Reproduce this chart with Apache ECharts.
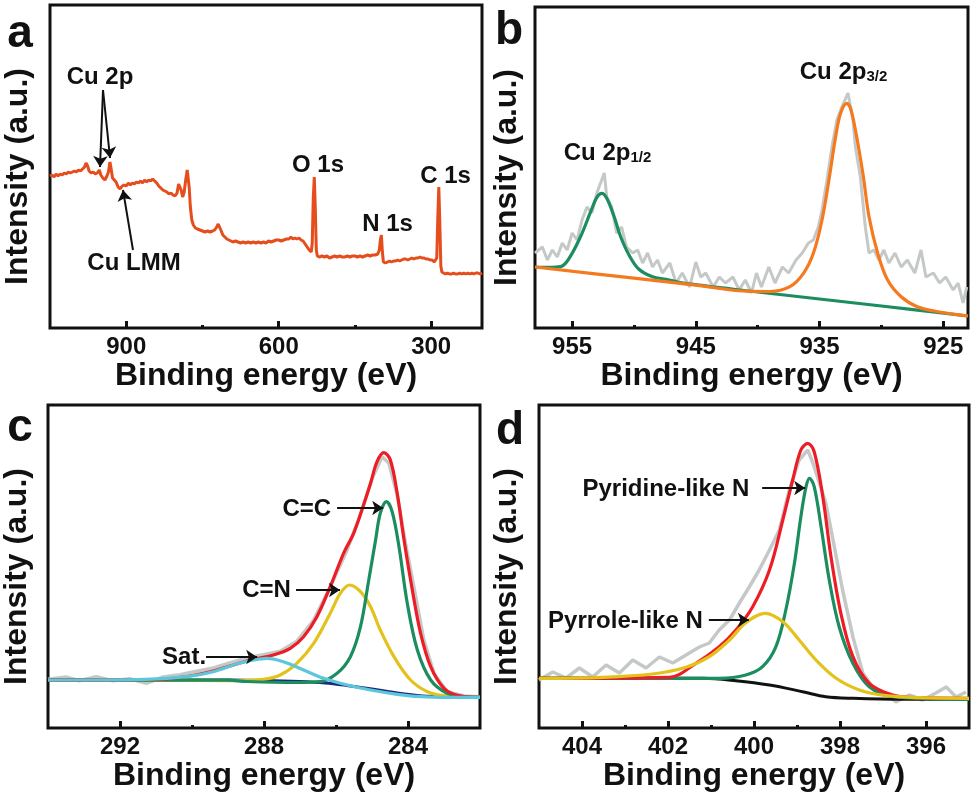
<!DOCTYPE html>
<html><head><meta charset="utf-8">
<script src="https://cdn.jsdelivr.net/npm/echarts@6/dist/echarts.min.js"></script>
<style>html,body{margin:0;padding:0;background:#fff}#c{width:979px;height:800px}</style>
</head><body><div id="c"></div>
<script>
// ---------- Panel a: survey spectrum [eV, intensity a.u.] ----------
const surveyData = [[1050,152],[1046,153],[1042,151],[1038,154],[1034,152],[1030,154],[1026,153],[1022,155],[1018,154],[1014,156],[1010,155],[1006,156],[1002,157],[998,156],[994,158],[990,157],[986,159],[982,161],[979,165],[976,162],[973,157],[969,155],[965,156],[961,154],[957,155],[953,158],[950,153],[946,150],[942,148],[938,152],[935,156],[932,166],[930,160],[927,150],[924,149],[920,146],[916,141],[912,139],[908,142],[904,143],[900,142],[896,145],[892,143],[888,145],[884,144],[880,146],[876,145],[872,147],[868,145],[864,148],[860,146],[856,148],[852,147],[848,149],[844,147],[840,145],[836,142],[832,140],[828,138],[824,137],[820,136],[816,134],[812,135],[808,133],[804,132],[800,135],[797,144],[795,146],[792,138],[789,131],[786,136],[783,148],[780,158],[778,156],[776,140],[774,122],[771,108],[768,103],[764,100],[760,99],[755,98],[750,97],[745,96],[740,97],[735,96],[730,97],[726,98],[722,101],[719,104],[716,102],[713,97],[710,93],[706,91],[702,89],[698,88],[694,87],[690,86],[685,87],[680,86],[675,85],[670,86],[665,85],[660,86],[655,85],[650,86],[645,85],[640,86],[635,85],[630,86],[625,85],[620,87],[615,86],[610,87],[605,88],[600,88],[595,87],[590,88],[585,89],[580,89],[576,91],[572,89],[568,90],[564,89],[560,90],[556,88],[552,87],[548,84],[544,81],[540,78],[536,76],[534,85],[532,130],[530,151],[528,120],[526,78],[524,72],[520,71],[515,72],[510,71],[505,72],[500,70],[495,71],[490,72],[485,71],[480,72],[475,71],[470,71],[465,72],[460,71],[455,72],[450,72],[445,71],[440,72],[435,71],[430,72],[425,73],[420,72],[415,73],[410,73],[405,74],[402,78],[400,88],[398,93],[396,76],[394,66],[390,65],[386,66],[382,67],[378,66],[374,67],[370,67],[366,68],[362,67],[358,68],[354,69],[350,69],[346,68],[342,69],[338,70],[334,69],[330,70],[326,70],[322,71],[318,70],[314,70],[310,69],[306,69],[302,68],[298,68],[294,66],[291,64],[289,70],[287,110],[285,141],[283,105],[281,62],[279,56],[276,55],[272,54],[268,55],[264,54],[260,54],[256,55],[252,54],[248,54],[244,55],[240,54],[236,55],[232,54],[228,55],[224,54],[220,55],[216,54],[212,55],[208,55],[204,54],[200,55]];

// ---------- Panel b: Cu 2p ----------
const cuRaw = [[958,75],[957.4,81],[957,68],[956.6,78],[956.2,71],[955.8,85],[955.4,78],[955,95],[954.6,88],[954.2,108],[953.8,121],[953.4,115],[953,135],[952.7,145],[952.4,155],[952.2,131],[951.8,121],[951.4,95],[951,101],[950.6,81],[950.1,75],[949.7,78],[949.3,65],[948.9,75],[948.5,61],[948.1,68],[947.7,55],[947.1,65],[946.6,45],[946.1,55],[945.5,41],[945,66],[944.6,51],[944.2,55],[943.6,41],[943.1,51],[942.6,45],[942,51],[941.5,38],[941,48],[940.5,35],[940.1,55],[939.7,41],[939.1,61],[938.6,45],[938,61],[937.5,55],[936.9,68],[936.4,75],[935.9,85],[935.5,88],[935.1,101],[934.8,118],[934.4,148],[934,181],[933.6,208],[933.2,221],[932.7,235],[932.3,208],[932.1,181],[931.7,151],[931.3,101],[931,75],[930.6,78],[930.2,68],[929.8,78],[929.4,65],[928.9,75],[928.4,61],[927.9,68],[927.3,55],[926.8,78],[926.4,51],[925.8,55],[925.3,45],[924.8,51],[924.2,38],[923.8,45],[923.4,25],[923.1,41]];
const cu2p12Fit = [[958,61],[956.6,60.7],[955.8,62],[955.0,74.7],[954.2,94.7],[953.5,116.3],[953.0,130.7],[952.6,134.7],[952.2,129.7],[951.6,111.3],[951.1,92],[950.4,73],[949.6,58.7],[948.5,51.3],[947.4,48.7],[946,44.8],[940,36],[935,29],[930,22],[923,12]];
const cu2p32Fit = [[958,61],[950,49.8],[945,42.8],[940.6,36.6],[939.0,36.5],[937.4,41.3],[936.3,54.7],[935.5,74.7],[934.8,108],[934.2,151.3],[933.7,191.3],[933.3,214.7],[932.8,224.7],[932.5,219.7],[932.1,198],[931.5,154.7],[931.0,111.3],[930.3,74.7],[929.5,48],[928.4,31.3],[927.1,21.3],[925.4,16.3],[923,12]];

// ---------- Panel c: C 1s ----------
const c1sRaw = [[294,48.7],[293.5,51],[293.13,47.3],[292.66,51.3],[292.2,47.3],[291.73,49.3],[291.27,44.7],[290.8,51],[290.34,53.3],[289.87,56.7],[289.41,60],[288.95,65],[288.48,70],[288.02,73.3],[287.55,76.7],[287.09,86.7],[286.62,108],[286.16,141.3],[285.69,178],[285.32,214],[284.99,250],[284.72,271.3],[284.53,264.7],[284.3,233],[284.07,184.7],[283.84,141.3],[283.56,88],[283.28,54.7],[282.91,36.3],[282.44,32],[282.02,31.3]];
const c1sBase = [[294,48],[289,48],[288,47.6],[287,46.5],[286.3,45],[285.7,42.5],[285,39],[284.3,35],[283.6,32],[283,31],[282,30.7]];
const c1sCN = [[294,48],[291.27,48],[288.95,47.3],[288.02,48.7],[287.55,53],[287.09,64.7],[286.62,84.7],[286.16,114.7],[285.88,134.7],[285.62,143],[285.32,136.3],[285.04,121.3],[284.77,98],[284.39,71.3],[283.93,48],[283.46,36.3],[283.0,32.3],[282,30.7]];
const c1sCC = [[294,48],[289,47.8],[288.48,46.5],[287.09,45.5],[286.44,46.3],[285.97,54.7],[285.6,71.3],[285.32,101.3],[285.09,148],[284.9,188],[284.77,214.7],[284.6,226.3],[284.44,216.3],[284.25,181.3],[284.02,124.7],[283.74,78],[283.37,48],[282.91,34.7],[282.44,31.3],[282,30.7]];
const c1sEnv = [[294,48],[291,48.5],[290.15,51.5],[289.41,57],[288.76,64],[288.29,68.7],[287.74,73],[287.27,79.7],[286.9,91.3],[286.53,111.3],[286.16,141.3],[285.79,174.7],[285.51,194.7],[285.28,218],[285.04,244.7],[284.86,266.3],[284.67,275.3],[284.49,268],[284.3,234.7],[284.11,188],[283.88,138],[283.65,94.7],[283.37,61.3],[283.0,39.7],[282.54,32],[282,30.7]];
const c1sSat = [[294,48],[291.27,48.7],[290.15,51.3],[289.41,56.3],[288.76,64],[288.29,68],[287.92,69.7],[287.46,66.3],[286.9,58],[286.34,49.7],[285.69,43],[285.04,38],[284.3,33.7],[283.65,31.3],[282.91,30.7],[282,30.7]];

// ---------- Panel d: N 1s ----------
const n1sRaw = [[405,48],[404.68,56],[404.37,50],[404.06,60],[403.75,51],[403.44,63],[403.13,55],[402.82,68],[402.51,60],[402.2,71],[401.89,65],[401.58,73],[401.27,81],[401.04,85],[400.81,98],[400.57,108],[400.34,125],[400.11,141],[399.88,158],[399.64,178],[399.41,198],[399.18,238],[398.95,268],[398.75,278],[398.63,265],[398.48,245],[398.33,225],[398.13,181],[397.94,138],[397.7,91],[397.47,55],[397.24,41],[396.93,35],[396.7,26],[396.39,33],[396.08,28],[395.77,35],[395.53,41],[395.3,31],[395.07,36]];
const n1sBase = [[405,49.7],[401.19,49.7],[400.42,47.3],[399.64,43],[398.87,36.3],[398.33,31.3],[397.7,29.7],[396.54,28.7],[395,28.7]];
const n1sPyrrole = [[405,49.7],[403.52,50.7],[402.36,54],[401.58,60.7],[401.04,71.3],[400.57,88],[400.19,105.3],[399.74,114.7],[399.33,106.3],[398.95,88],[398.56,68],[398.09,49.7],[397.55,38],[396.93,32.3],[396.16,30.3],[395,29.7]];
const n1sPyridine = [[405,49.7],[401.97,49.7],[400.81,49.7],[400.19,53],[399.8,61.3],[399.49,81.3],[399.26,118],[399.06,164.7],[398.91,211.3],[398.79,241.3],[398.71,249.7],[398.6,241.3],[398.44,201.3],[398.25,148],[398.02,101.3],[397.7,64.7],[397.32,41.3],[396.77,31.3],[395,28.7]];
const n1sEnv = [[405,49.7],[401.97,50.7],[401.35,64.7],[400.81,81.3],[400.42,98],[400.03,121.3],[399.64,158],[399.33,208],[399.1,248],[398.91,278],[398.75,284.7],[398.6,276.3],[398.4,231.3],[398.21,171.3],[397.98,114.7],[397.7,71.3],[397.32,44.7],[396.77,33],[396.16,30.3],[395,29.7]];

// ---------- Axes: ranges and ticks ----------
const xRanges = [[200,1050],[923,958],[282,294],[395,405]];
const majorTicks = [[300,600,900],[925,935,945,955],[284,288,292],[396,398,400,402,404]];
const minorTicks = [[450,750],[930,940,950],[286,290],[397,399,401,403]];
const yMax = [323,321,323,323];

// ---------- Annotations (data coords) ----------
const labelsA = [{x:951.6,y:251,t:'Cu 2p'},{x:884.7,y:65,t:'Cu LMM'},{x:522.6,y:163,t:'O 1s'},{x:385.9,y:104,t:'N 1s'},{x:271.8,y:152,t:'C 1s'}];
const labelsB = [{x:952.14,y:175,t:'Cu 2p{s|1/2}'},{x:933.06,y:256,t:'Cu 2p{s|3/2}'}];
const labelsC = [{x:290.22,y:71,t:'Sat.'},{x:287.93,y:138,t:'C=N'},{x:286.81,y:219,t:'C=C'}];
const labelsD = [{x:402.05,y:239,t:'Pyridine-like N'},{x:402.99,y:107,t:'Pyrrole-like N'}];
const arrowsA = [[[945.7,238],[951.6,161]],[[945.7,238],[931.9,170]],[[886.7,78],[906.4,138]]];
const arrowsC = [[[289.61,71],[288.19,71]],[[287.11,138],[285.89,138]],[[285.97,220],[284.69,220]]];
const arrowsD = [[[399.81,240],[398.81,240]],[[401.05,108],[400.12,108]]];

const FONT = '"Liberation Sans", Arial, Helvetica, sans-serif';
const INK = '#111';

const grids = [
  {left:50, top:5, width:432, height:323},
  {left:535, top:7, width:433, height:321},
  {left:48, top:405, width:432, height:323},
  {left:539, top:405, width:430, height:323}
].map(g => Object.assign(g, {show:true, borderColor:INK, borderWidth:3, backgroundColor:'#fff'}));

const xAxes = [];
for (let i = 0; i < 4; i++) {
  xAxes.push({
    type:'value', gridIndex:i, position:'bottom', inverse:true,
    min:xRanges[i][0], max:xRanges[i][1],
    name:'Binding energy (eV)', nameLocation:'middle', nameGap:31,
    nameTextStyle:{fontSize:32, fontWeight:'bold', color:INK, fontFamily:FONT},
    axisLine:{show:false},
    axisTick:{show:true, inside:true, length:7, lineStyle:{width:3, color:INK}, customValues:majorTicks[i]},
    axisLabel:{show:true, customValues:majorTicks[i], fontSize:24, fontWeight:'bold', color:INK, fontFamily:FONT, margin:7},
    splitLine:{show:false}
  });
  xAxes.push({
    type:'value', gridIndex:i, position:'bottom', inverse:true,
    min:xRanges[i][0], max:xRanges[i][1],
    axisLine:{show:false},
    axisTick:{show:true, inside:true, length:3, lineStyle:{width:3, color:INK}, customValues:minorTicks[i]},
    axisLabel:{show:false},
    splitLine:{show:false}
  });
}
const yGap = [16, 12, 15, 16];
const yAxes = [0,1,2,3].map(i => ({
  type:'value', gridIndex:i, min:0, max:yMax[i],
  name:'Intensity (a.u.)', nameLocation:'middle', nameGap:yGap[i],
  nameTextStyle:{fontSize:32, fontWeight:'bold', color:INK, fontFamily:FONT, padding:[0,20,0,0]},
  axisLine:{show:false}, axisTick:{show:false}, axisLabel:{show:false}, splitLine:{show:false}
}));

function arrowsMark(list) {
  return {
    silent:true, animation:false, symbol:['none','arrow'], symbolSize:11,
    lineStyle:{color:INK, width:2, type:'solid'}, label:{show:false},
    emphasis:{disabled:true},
    data:list.map(a => [{coord:a[0]},{coord:a[1]}])
  };
}
function line(panel, data, color, width, smooth, extra) {
  return Object.assign({
    type:'line', xAxisIndex:panel*2, yAxisIndex:panel, data:data,
    showSymbol:false, symbol:'none', smooth:smooth ? 0.35 : false,
    lineStyle:{color:color, width:width}, itemStyle:{color:color},
    silent:true, animation:false, clip:true
  }, extra || {});
}

const GREY = '#c4c9c7', RED = '#ee1c25', GREEN = '#1b8d5f', YELLOW = '#e3c21b', CYAN = '#5cc7dc', NAVY = '#1b2a7a';
const series = [
  line(0, surveyData, '#e64d1c', 3, false, {markLine:arrowsMark(arrowsA)}),
  line(1, cuRaw, GREY, 3, false),
  line(1, cu2p12Fit, GREEN, 3.2, true),
  line(1, cu2p32Fit, '#f57a1f', 3.2, true),
  line(2, c1sRaw, GREY, 3.5, false),
  line(2, c1sBase, NAVY, 3, true),
  line(2, c1sCN, YELLOW, 3.2, true),
  line(2, c1sCC, GREEN, 3.2, true),
  line(2, c1sEnv, RED, 3.2, true),
  line(2, c1sSat, CYAN, 3.2, true, {markLine:arrowsMark(arrowsC)}),
  line(3, n1sRaw, GREY, 3.5, false),
  line(3, n1sBase, INK, 3, true),
  line(3, n1sPyridine, GREEN, 3.2, true),
  line(3, n1sEnv, RED, 3.2, true),
  line(3, n1sPyrrole, YELLOW, 3.2, true, {markLine:arrowsMark(arrowsD)})
];

const chart = echarts.init(document.getElementById('c'), null, {renderer:'canvas'});
chart.setOption({animation:false, backgroundColor:'#fff', grid:grids, xAxis:xAxes, yAxis:yAxes, series:series});

const graphics = [];
[labelsA, labelsB, labelsC, labelsD].forEach((list, p) => {
  list.forEach(l => {
    const pt = chart.convertToPixel({xAxisIndex:p*2, yAxisIndex:p}, [l.x, l.y]);
    graphics.push({
      type:'text', x:pt[0], y:pt[1], silent:true, z:100,
      style:{
        text:l.t, fill:INK, fontSize:24, fontWeight:'bold', fontFamily:FONT,
        align:'center', verticalAlign:'middle', textAlign:'center', textVerticalAlign:'middle',
        rich:{s:{fontSize:15, fontWeight:'bold', fontFamily:FONT, fill:INK, verticalAlign:'bottom', padding:[6,0,0,0]}}
      }
    });
  });
});
const panelLetters = [['a',20,34],['b',509,31],['c',20,428],['d',510,431]];
panelLetters.forEach(pl => graphics.push({
  type:'text', x:pl[1], y:pl[2], silent:true, z:100,
  style:{text:pl[0], fill:INK, fontSize:46, fontWeight:'bold', fontFamily:FONT, align:'center', verticalAlign:'middle', textAlign:'center', textVerticalAlign:'middle'}
}));
chart.setOption({graphic:graphics});
</script></body></html>
